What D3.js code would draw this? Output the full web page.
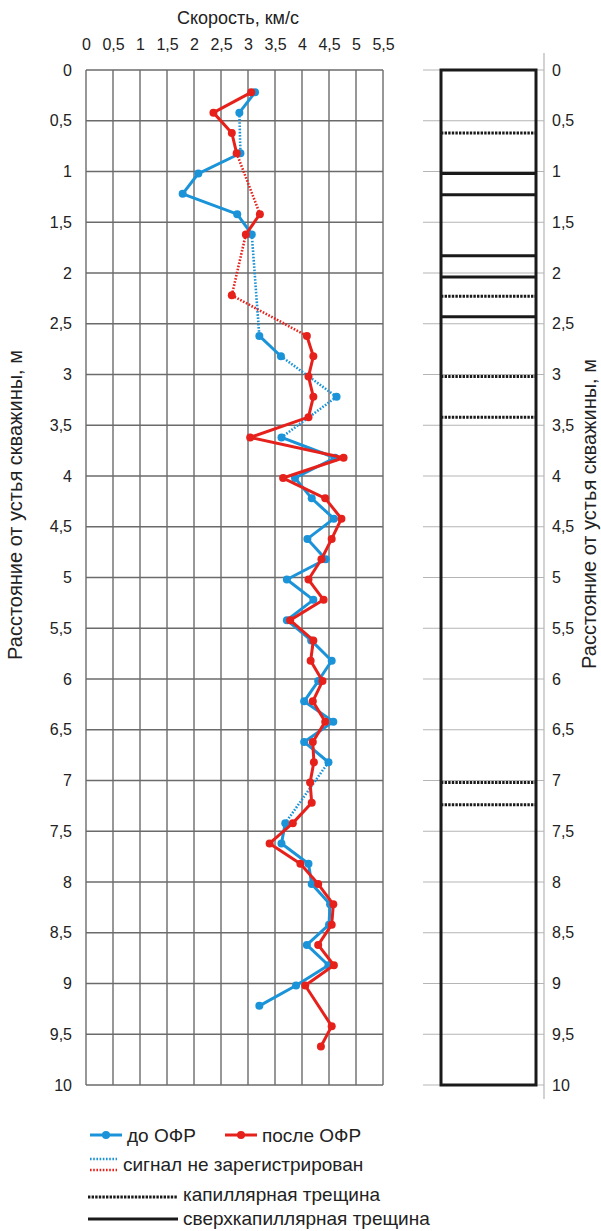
<!DOCTYPE html>
<html>
<head>
<meta charset="utf-8">
<script src="https://cdn.jsdelivr.net/npm/d3@7"></script>
<style>
  body { margin: 0; background: #fff; }
  svg { font-family: "Liberation Sans", Arial, sans-serif; }
  text { fill: #222; }
</style>
</head>
<body>
<div id="chart"></div>
<script>
// depths (m) and velocities (km/s)
var blueDepth = [0.22, 0.42, 0.82, 1.02, 1.22, 1.42, 1.62, 2.62, 2.82, 3.22, 3.62, 3.82, 4.02, 4.22, 4.42, 4.62, 4.82, 5.02, 5.22, 5.42, 5.62, 5.82, 6.02, 6.22, 6.42, 6.62, 6.82, 7.42, 7.62, 7.82, 8.02, 8.22, 8.42, 8.62, 8.82, 9.02, 9.22];
var blueSpeed = [3.13, 2.84, 2.86, 2.08, 1.79, 2.80, 3.07, 3.21, 3.61, 4.64, 3.62, 4.61, 3.87, 4.18, 4.59, 4.10, 4.44, 3.72, 4.21, 3.72, 4.17, 4.55, 4.30, 4.04, 4.58, 4.04, 4.49, 3.69, 3.62, 4.12, 4.18, 4.52, 4.50, 4.09, 4.49, 3.89, 3.21];
var redDepth = [0.22, 0.42, 0.62, 0.82, 1.42, 1.62, 2.22, 2.62, 2.82, 3.02, 3.22, 3.42, 3.62, 3.82, 4.02, 4.22, 4.42, 4.62, 4.82, 5.02, 5.22, 5.42, 5.62, 5.82, 6.02, 6.22, 6.42, 6.62, 6.82, 7.02, 7.22, 7.42, 7.62, 7.82, 8.02, 8.22, 8.42, 8.62, 8.82, 9.02, 9.42, 9.62];
var redSpeed = [3.06, 2.36, 2.70, 2.79, 3.22, 2.96, 2.70, 4.09, 4.21, 4.12, 4.21, 4.12, 3.04, 4.77, 3.65, 4.43, 4.73, 4.55, 4.36, 4.12, 4.40, 3.78, 4.21, 4.16, 4.38, 4.20, 4.43, 4.20, 4.22, 4.15, 4.18, 3.83, 3.40, 3.97, 4.30, 4.58, 4.55, 4.30, 4.59, 4.06, 4.55, 4.35];
// depth ranges where the signal was not registered (drawn dotted)
var blueGaps = [[0.42, 0.82], [1.62, 2.62], [2.82, 3.62], [6.82, 7.42]];
var redGaps = [[0.82, 1.42], [1.62, 2.62]];
// fractures in the borehole
var capillary = [0.62, 2.23, 3.02, 3.42, 7.02, 7.24];
var supercapillary = [1.02, 1.23, 1.83, 2.04, 2.43];
var xTicks = [0, 0.5, 1, 1.5, 2, 2.5, 3, 3.5, 4, 4.5, 5, 5.5];
var yTicks = d3.range(0, 10.01, 0.5);

var BLUE = "#1b93d8", RED = "#e6211c";
var fmt = function(d) { return String(+d.toFixed(1)).replace(".", ","); };

var svg = d3.select("#chart").append("svg")
  .attr("width", 601).attr("height", 1231);

var x = d3.scaleLinear().domain([0, 5.5]).range([86, 383]);
var y = d3.scaleLinear().domain([0, 10]).range([70, 1085]);

// grid of the velocity panel
svg.selectAll(".vgrid").data(xTicks).enter().append("line")
  .attr("x1", d => x(d)).attr("x2", d => x(d))
  .attr("y1", y(0)).attr("y2", y(10))
  .attr("stroke", "#6b6b6b").attr("stroke-width", 1.4);
svg.selectAll(".hgrid").data(yTicks).enter().append("line")
  .attr("x1", x(0)).attr("x2", x(5.5))
  .attr("y1", d => y(d)).attr("y2", d => y(d))
  .attr("stroke", "#6b6b6b").attr("stroke-width", 1.4);

// axes (labels only)
var xAxis = svg.append("g").attr("transform", "translate(0,53)")
  .call(d3.axisTop(x).tickValues(xTicks).tickFormat(fmt).tickSize(0));
var yAxis = svg.append("g").attr("transform", "translate(72,0)")
  .call(d3.axisLeft(y).tickValues(yTicks).tickFormat(fmt).tickSize(0));
[xAxis, yAxis].forEach(function(a) {
  a.select(".domain").remove();
  a.selectAll("text").attr("font-size", 16).attr("fill", "#222")
    .attr("font-family", "Liberation Sans, Arial, sans-serif");
});
yAxis.selectAll("text").attr("x", 0);

svg.append("text").attr("x", 238).attr("y", 24).attr("text-anchor", "middle")
  .attr("font-size", 18).text("Скорость, км/с");
svg.append("text").attr("transform", "translate(22,505) rotate(-90)")
  .attr("text-anchor", "middle").attr("font-size", 20)
  .text("Расстояние от устья скважины, м");

// velocity profiles
function drawSeries(depth, speed, gaps, color) {
  var pts = depth.map((d, i) => ({ d: d, v: speed[i] }));
  var segs = d3.pairs(pts).map(function(p) {
    var dotted = gaps.some(g => p[0].d >= g[0] - 1e-6 && p[1].d <= g[1] + 1e-6);
    return { a: p[0], b: p[1], dotted: dotted };
  });
  var g = svg.append("g");
  g.selectAll("line").data(segs).enter().append("line")
    .attr("x1", s => x(s.a.v)).attr("y1", s => y(s.a.d))
    .attr("x2", s => x(s.b.v)).attr("y2", s => y(s.b.d))
    .attr("stroke", color)
    .attr("stroke-width", s => s.dotted ? 2.6 : 3)
    .attr("stroke-dasharray", s => s.dotted ? "1.6,1.6" : null);
  g.selectAll("circle").data(pts).enter().append("circle")
    .attr("cx", p => x(p.v)).attr("cy", p => y(p.d)).attr("r", 4)
    .attr("fill", color);
}
drawSeries(blueDepth, blueSpeed, blueGaps, BLUE);
drawSeries(redDepth, redSpeed, redGaps, RED);

// borehole column
var colL = 441, colR = 536, axX = 544;
svg.selectAll(".cgrid").data(yTicks).enter().append("line")
  .attr("x1", 423).attr("x2", axX)
  .attr("y1", d => y(d)).attr("y2", d => y(d))
  .attr("stroke", "#b5b5b5").attr("stroke-width", 1.2);
svg.append("line").attr("x1", axX).attr("x2", axX).attr("y1", 53).attr("y2", 1099)
  .attr("stroke", "#b5b5b5").attr("stroke-width", 1.2);
svg.append("rect").attr("x", colL).attr("y", y(0)).attr("width", colR - colL)
  .attr("height", y(10) - y(0)).attr("fill", "none")
  .attr("stroke", "#1a1a1a").attr("stroke-width", 3);
svg.selectAll(".cap").data(capillary).enter().append("line")
  .attr("x1", colL).attr("x2", colR).attr("y1", d => y(d)).attr("y2", d => y(d))
  .attr("stroke", "#1a1a1a").attr("stroke-width", 3).attr("stroke-dasharray", "2.4,1.2");
svg.selectAll(".scap").data(supercapillary).enter().append("line")
  .attr("x1", colL).attr("x2", colR).attr("y1", d => y(d)).attr("y2", d => y(d))
  .attr("stroke", "#1a1a1a").attr("stroke-width", 3);

var rAxis = svg.append("g").attr("transform", "translate(552,0)")
  .call(d3.axisRight(y).tickValues(yTicks).tickFormat(fmt).tickSize(0));
rAxis.select(".domain").remove();
rAxis.selectAll("text").attr("x", 0).attr("font-size", 16).attr("fill", "#222")
  .attr("font-family", "Liberation Sans, Arial, sans-serif");
svg.append("text").attr("transform", "translate(596,514) rotate(-90)")
  .attr("text-anchor", "middle").attr("font-size", 20)
  .text("Расстояние от устья скважины, м");

// legend
var lg = svg.append("g").attr("font-size", 19);
[[90, BLUE, "до ОФР"], [225, RED, "после ОФР"]].forEach(function(l) {
  lg.append("line").attr("x1", l[0]).attr("x2", l[0] + 32).attr("y1", 1135).attr("y2", 1135)
    .attr("stroke", l[1]).attr("stroke-width", 3);
  lg.append("circle").attr("cx", l[0] + 16).attr("cy", 1135).attr("r", 4).attr("fill", l[1]);
  lg.append("text").attr("x", l[0] + 37).attr("y", 1142).text(l[2]);
});
[[1159, BLUE], [1170, RED]].forEach(function(l) {
  lg.append("line").attr("x1", 90).attr("x2", 117).attr("y1", l[0]).attr("y2", l[0])
    .attr("stroke", l[1]).attr("stroke-width", 2.6).attr("stroke-dasharray", "1.6,1.6");
});
lg.append("text").attr("x", 123).attr("y", 1171).text("сигнал не зарегистрирован");
lg.append("line").attr("x1", 88).attr("x2", 178).attr("y1", 1197).attr("y2", 1197)
  .attr("stroke", "#1a1a1a").attr("stroke-width", 3).attr("stroke-dasharray", "2.4,1.2");
lg.append("text").attr("x", 183).attr("y", 1201).text("капиллярная трещина");
lg.append("line").attr("x1", 88).attr("x2", 178).attr("y1", 1219).attr("y2", 1219)
  .attr("stroke", "#1a1a1a").attr("stroke-width", 3);
lg.append("text").attr("x", 183).attr("y", 1225).text("сверхкапиллярная трещина");
</script>
</body>
</html>
